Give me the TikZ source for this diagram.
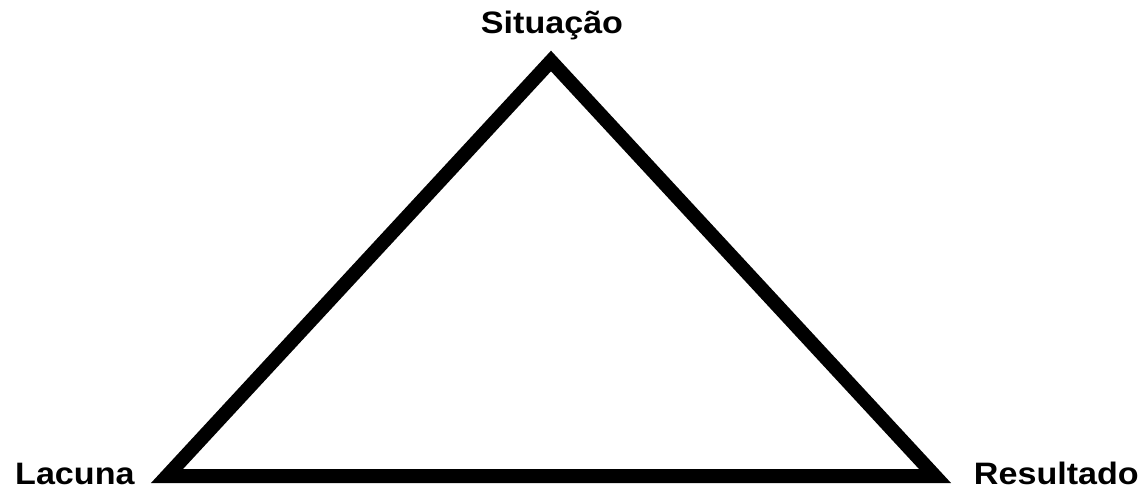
\documentclass[tikz,border=0pt]{standalone}
\usepackage{fontspec}
\setmainfont{Liberation Sans}
\newfontfamily\lblfont[FakeStretch=1.1]{Liberation Sans}
\begin{document}
\begin{tikzpicture}[x=1pt,y=-1pt,
  lbl/.style={font=\lblfont\bfseries\fontsize{31}{36}\selectfont, inner sep=0pt, text=black},
  tri/.style={line width=14pt, line join=miter, draw=black}]
\useasboundingbox (0,0) rectangle (1142,489);
\fill[white] (0,0) rectangle (1142,489);
\coordinate (A) at (551,61);
\coordinate (L) at (167,476);
\coordinate (R) at (935,476);
\draw[tri] (L) -- (A) -- (R) -- cycle;
\node[lbl, anchor=base] (sit) at (552,34) {Situação};
\node[lbl, anchor=base west] (lac) at (15,484) {Lacuna};
\node[lbl, anchor=base east] (res) at (1139,484) {Resultado};
\end{tikzpicture}
\end{document}
